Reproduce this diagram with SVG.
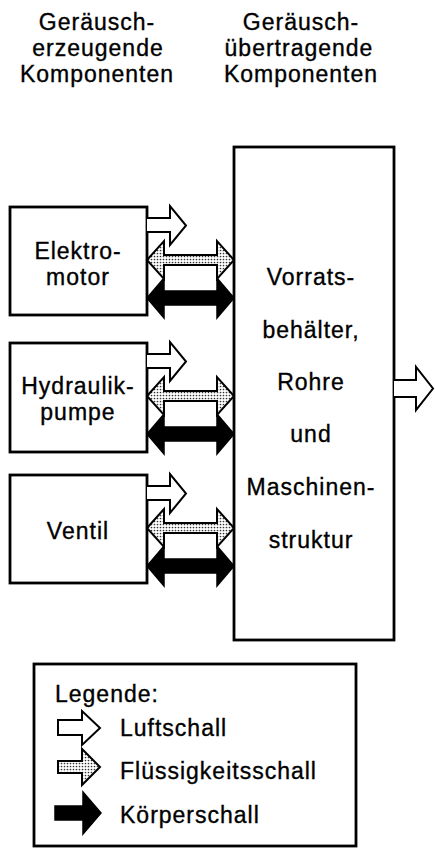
<svg xmlns="http://www.w3.org/2000/svg" width="435" height="850" viewBox="0 0 435 850">
<defs>
<pattern id="dots" width="3" height="3" patternUnits="userSpaceOnUse">
<rect width="3" height="3" fill="#fff"/>
<circle cx="1.5" cy="1.5" r="0.85" fill="#333"/>
</pattern>
<style>
text{font-family:"Liberation Sans",Arial,sans-serif;font-size:23px;letter-spacing:1px;fill:#000;stroke:#000;stroke-width:0.35}
.c{text-anchor:middle}
.box{fill:#fff;stroke:#000;stroke-width:2.8}
.air{fill:#fff;stroke:#000;stroke-width:2;stroke-linejoin:miter}
.fluid{fill:url(#dots);stroke:#000;stroke-width:2}
.solid{fill:#000;stroke:#000;stroke-width:1.5}
</style>
</defs>
<g id="headers">
<text class="c" x="97" y="30">Geräusch-</text>
<text class="c" x="98" y="56">erzeugende</text>
<text class="c" x="97" y="82">Komponenten</text>
<text class="c" x="301" y="30">Geräusch-</text>
<text class="c" x="299" y="56">übertragende</text>
<text class="c" x="301" y="82">Komponenten</text>
</g>
<g id="behaelter">
<rect class="box" x="234" y="147" width="160" height="493"/>
<text class="c" x="311" y="285">Vorrats-</text>
<text class="c" x="311" y="338">behälter,</text>
<text class="c" x="311" y="390">Rohre</text>
<text class="c" x="311" y="442">und</text>
<text class="c" x="311" y="495">Maschinen-</text>
<text class="c" x="311" y="548">struktur</text>
</g>
<g id="elektromotor">
<rect class="box" x="10" y="207" width="137" height="108"/>
<text class="c" x="78" y="259">Elektro-</text>
<text class="c" x="78" y="285">motor</text>
</g>
<g id="hydraulikpumpe">
<rect class="box" x="10" y="343" width="137" height="109"/>
<text class="c" x="78" y="394">Hydraulik-</text>
<text class="c" x="78" y="420">pumpe</text>
</g>
<g id="ventil">
<rect class="box" x="10" y="475" width="137" height="108"/>
<text class="c" x="78" y="539">Ventil</text>
</g>
<g id="connectors">
<g transform="translate(0,207)">
<path class="air" d="M147,11 H170 V-1 L186,18.5 L170,38 V25 H147"/>
<path class="fluid" d="M147,53 L164,34 V48 H217 V34 L234,53 L217,72 V58 H164 V72 Z"/>
<path class="solid" d="M147,91 L164,71 V84 H217 V71 L234,91 L217,111 V98 H164 V111 Z"/>
</g>
<g transform="translate(0,343)">
<path class="air" d="M147,11 H170 V-1 L186,18.5 L170,38 V25 H147"/>
<path class="fluid" d="M147,53 L164,34 V48 H217 V34 L234,53 L217,72 V58 H164 V72 Z"/>
<path class="solid" d="M147,91 L164,71 V84 H217 V71 L234,91 L217,111 V98 H164 V111 Z"/>
</g>
<g transform="translate(0,475)">
<path class="air" d="M147,11 H170 V-1 L186,18.5 L170,38 V25 H147"/>
<path class="fluid" d="M147,53 L164,34 V48 H217 V34 L234,53 L217,72 V58 H164 V72 Z"/>
<path class="solid" d="M147,91 L164,71 V84 H217 V71 L234,91 L217,111 V98 H164 V111 Z"/>
</g>
<path class="air" d="M394,380 H416 V367 L433,388.5 L416,410 V397 H394"/>
</g>
<g id="legende">
<rect class="box" x="34" y="664" width="322" height="182"/>
<text x="55" y="702">Legende:</text>
<path class="air" d="M58,720 H82 V711 L100,728 L82,745 V735 H58 Z"/>
<text x="120" y="736">Luftschall</text>
<path class="fluid" d="M58,761 H82 V749 L100,767 L82,785 V773 H58 Z"/>
<text x="120" y="779">Flüssigkeitsschall</text>
<path class="solid" d="M55,806 H83 V792 L101,813 L83,834 V820 H55 Z"/>
<text x="120" y="823">Körperschall</text>
</g>
</svg>
